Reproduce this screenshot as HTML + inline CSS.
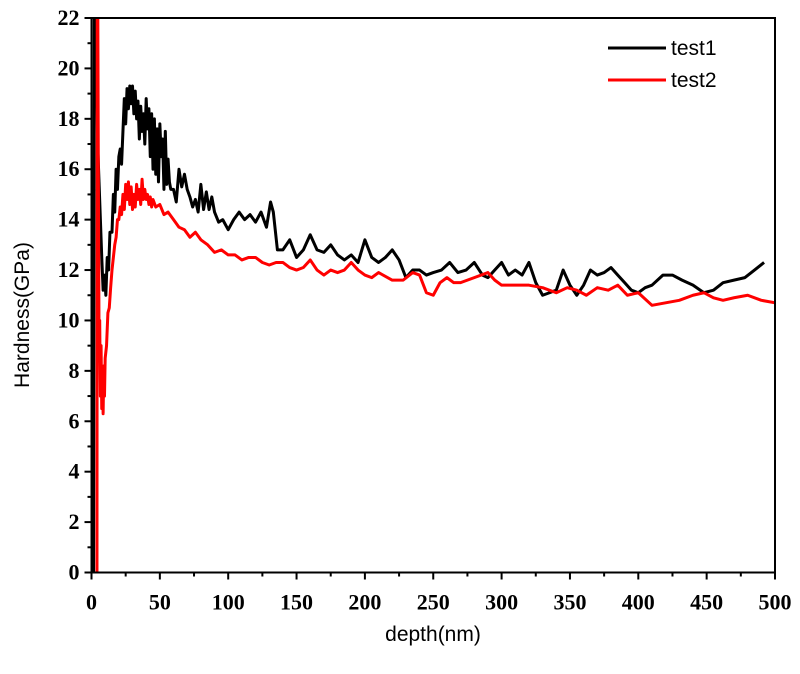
<!DOCTYPE html>
<html><head><meta charset="utf-8">
<style>
html,body{margin:0;padding:0;background:#fff;}
svg{display:block;}
.tick{font-family:"Liberation Serif",serif;font-weight:bold;font-size:22px;fill:#000;}
.title{font-family:"Liberation Sans",sans-serif;font-size:21px;fill:#000;}
.leg{font-family:"Liberation Sans",sans-serif;font-size:21px;fill:#000;}
</style></head>
<body>
<svg id="chart" width="800" height="674" viewBox="0 0 800 674">
<g id="plot"></g>
</svg>
<script>
const xTicks=[0,50,100,150,200,250,300,350,400,450,500];
const yTicks=[0,2,4,6,8,10,12,14,16,18,20,22];
const test1Depth=[1.5,1.7,2.0,3.0,4.5,5.5,6.5,7.5,8.5,9.5,10.5,11.5,12.5,13.5,15,16,17,18,19,20,21,22,23,24,25,26,27,28,29,30,31,32,33,34,35,36,37,38,39,40,41,42,43,44,45,46,47,48,49,50,51,52,53,54,55,56,57,58,60,62,64,66,68,70,72,74,76,78,80,82,84,86,88,90,93,96,100,104,108,112,116,120,124,128,131,133,136,140,145,150,155,160,165,170,175,180,185,190,195,200,205,210,215,220,225,230,235,240,245,250,256,262,268,274,280,286,290,295,300,305,310,315,320,325,330,335,340,345,350,355,360,365,370,375,380,385,390,395,400,405,410,418,425,432,440,448,455,462,470,478,485,492,500];
const test1Hard=[0,10,22.5,22.5,17,15.5,14,12.5,11.2,11.8,11,12.5,12,13.5,13.5,15,14.3,16,15.2,16.5,16.8,16.2,17.5,18.8,17.8,19.2,18.4,19.3,18.6,19.3,18.2,19.1,18,18.7,17.2,18.5,17.5,18.2,17,18.8,17.6,18.4,16.5,18.2,16,18,15.8,17.6,15.5,17.8,16.5,17.2,15.2,17.5,15.4,16.4,15.5,15.2,15.2,14.7,16,15.3,15.8,15.2,14.9,14.5,14.8,14.3,15.4,14.4,15.1,14.4,14.9,14.3,13.9,14,13.6,14,14.3,14,14.2,13.9,14.3,13.7,14.7,14.3,12.8,12.8,13.2,12.5,12.8,13.4,12.8,12.7,13,12.6,12.4,12.6,12.3,13.2,12.5,12.3,12.5,12.8,12.4,11.7,12,12,11.8,11.9,12,12.3,11.9,12,12.3,11.8,11.7,12,12.3,11.8,12,11.8,12.3,11.5,11,11.1,11.2,12,11.4,11,11.4,12,11.8,11.9,12.1,11.8,11.5,11.2,11.1,11.3,11.4,11.8,11.8,11.6,11.4,11.1,11.2,11.5,11.6,11.7,12,12.3];
const test2Depth=[4.0,4.2,4.6,5.0,5.5,6.0,6.5,7.0,7.5,8.0,8.5,9.0,9.5,10,11,12,13,14,15,16,17,18,19,20,21,22,23,24,25,26,27,28,29,30,31,32,33,34,35,36,37,38,39,40,41,42,43,44,45,47,50,53,56,60,64,68,72,76,80,85,90,95,100,105,110,115,120,125,130,135,140,145,150,155,160,165,170,175,180,185,190,195,200,205,210,220,228,235,240,245,250,255,260,265,270,280,290,295,300,310,320,330,340,348,355,362,370,378,385,392,400,410,420,430,440,448,455,462,470,480,490,500];
const test2Hard=[0,22.5,22.5,16,9.5,10,7,9,6.5,7.8,6.3,8.2,7,8.5,9,10.3,10.5,11.3,12,12.5,13,13.3,14,14,14.5,14.2,15,14.4,15.4,14.8,15.5,14.6,15.3,14.4,15,14.5,15.4,14.8,15.2,14.6,15.6,14.8,15.2,14.8,15,14.6,14.9,14.5,14.8,14.5,14.6,14.2,14.3,14,13.7,13.6,13.3,13.5,13.2,13,12.7,12.8,12.6,12.6,12.4,12.5,12.5,12.3,12.2,12.3,12.3,12.1,12,12.1,12.4,12,11.8,12,11.9,12,12.3,12,11.8,11.7,11.9,11.6,11.6,11.9,11.8,11.1,11,11.5,11.7,11.5,11.5,11.7,11.9,11.6,11.4,11.4,11.4,11.3,11.1,11.3,11.2,11,11.3,11.2,11.4,11,11.1,10.6,10.7,10.8,11,11.1,10.9,10.8,10.9,11,10.8,10.7,10.6];

const X0=91.5,X1=775,Y0=572.5,Y1=18;
const xs=v=>X0+(v-0)/500*(X1-X0);
const ys=v=>Y0-(v-0)/22*(Y0-Y1);
const NS="http://www.w3.org/2000/svg";
const plot=document.getElementById('plot');
function mk(tag,attrs,parent){const e=document.createElementNS(NS,tag);for(const k in attrs)e.setAttribute(k,attrs[k]);(parent||plot).appendChild(e);return e;}

const clip=mk('clipPath',{id:'clp'});mk('rect',{x:X0,y:Y1,width:X1-X0,height:Y0-Y1},clip);

function series(dep,hd,color,name){
  let d='';dep.forEach((x,i)=>{d+=(i?'L':'M')+xs(x).toFixed(2)+','+ys(hd[i]).toFixed(2);});
  const p=mk('path',{d:d,fill:'none',stroke:color,'stroke-width':3,'stroke-linejoin':'round','clip-path':'url(#clp)'});
  
  
}
series(test1Depth,test1Hard,'#000','test1-line');
series(test2Depth,test2Hard,'#f00','test2-line');

const fr=mk('rect',{x:X0,y:Y1,width:X1-X0,height:Y0-Y1,fill:'none',stroke:'#000','stroke-width':2});



xTicks.forEach(v=>{
  mk('line',{x1:xs(v),x2:xs(v),y1:Y0,y2:Y0+7,stroke:'#000','stroke-width':2});
  const t=mk('text',{x:xs(v),y:Y0+37,'text-anchor':'middle',class:'tick'});t.textContent=v;
  
  
});
for(let i=0;i<xTicks.length-1;i++){const m=(xTicks[i]+xTicks[i+1])/2;mk('line',{x1:xs(m),x2:xs(m),y1:Y0,y2:Y0+4,stroke:'#000','stroke-width':2});}
yTicks.forEach(v=>{
  mk('line',{x1:X0-7,x2:X0,y1:ys(v),y2:ys(v),stroke:'#000','stroke-width':2});
  const t=mk('text',{x:X0-12,y:ys(v)+7,'text-anchor':'end',class:'tick'});t.textContent=v;
  
  
});
for(let i=0;i<yTicks.length-1;i++){const m=(yTicks[i]+yTicks[i+1])/2;mk('line',{x1:X0-4,x2:X0,y1:ys(m),y2:ys(m),stroke:'#000','stroke-width':2});}

const xt=mk('text',{x:433,y:641,'text-anchor':'middle',class:'title'});xt.textContent='depth(nm)';


const yt=mk('text',{x:0,y:0,'text-anchor':'middle',class:'title',transform:'translate(29,315) rotate(-90)'});yt.textContent='Hardness(GPa)';



const lg=mk('g',{});


[['test1','#000',48],['test2','#f00',80]].forEach(([n,c,y])=>{
  const g=mk('g',{},lg);
  
  
  mk('line',{x1:608,x2:666,y1:y,y2:y,stroke:c,'stroke-width':3},g);
  const t=mk('text',{x:671,y:y+7,class:'leg'},g);t.textContent=n;
});
</script>
</body></html>
